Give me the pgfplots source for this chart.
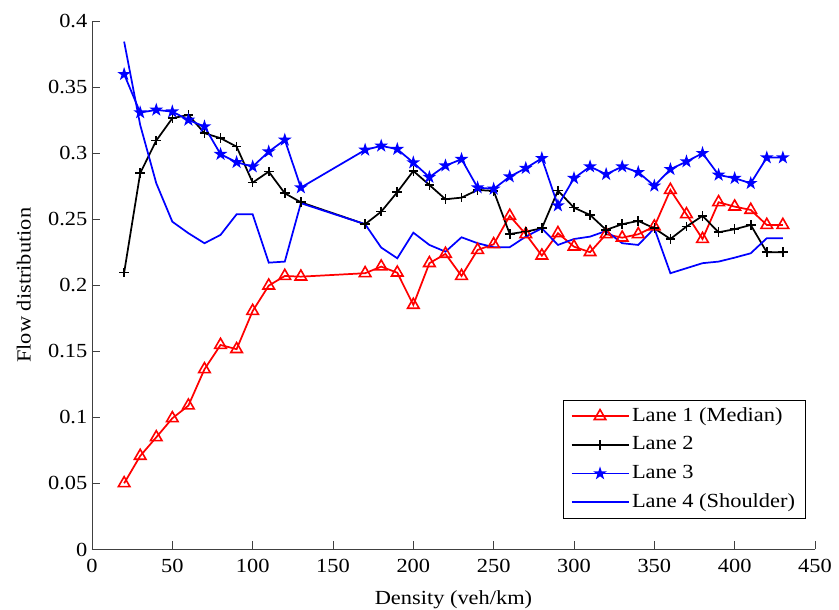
\documentclass[border=0pt]{standalone}
\usepackage{fontspec}
\setmainfont{Liberation Serif}[FakeStretch=1.12]
\usepackage{pgfplots}
\usepackage{pgfplotstable}
\pgfplotsset{compat=1.18}
\usetikzlibrary{arrows.meta}

\pgfdeclareplotmark{pstar}{%
  \pgfpathmoveto{\pgfpointpolar{90}{\pgfplotmarksize}}%
  \pgfpathlineto{\pgfpointpolar{126}{0.382\pgfplotmarksize}}%
  \pgfpathlineto{\pgfpointpolar{162}{\pgfplotmarksize}}%
  \pgfpathlineto{\pgfpointpolar{198}{0.382\pgfplotmarksize}}%
  \pgfpathlineto{\pgfpointpolar{234}{\pgfplotmarksize}}%
  \pgfpathlineto{\pgfpointpolar{270}{0.382\pgfplotmarksize}}%
  \pgfpathlineto{\pgfpointpolar{306}{\pgfplotmarksize}}%
  \pgfpathlineto{\pgfpointpolar{342}{0.382\pgfplotmarksize}}%
  \pgfpathlineto{\pgfpointpolar{18}{\pgfplotmarksize}}%
  \pgfpathlineto{\pgfpointpolar{54}{0.382\pgfplotmarksize}}%
  \pgfpathclose
  \pgfusepathqfill}

\pgfplotstableread{
x    l1     l2     l3     l4
20   0.0501 0.2095 0.3597 0.3844
30   0.0708 0.2848 0.3307 0.3213
40   0.0849 0.3095 0.3327 0.2772
50   0.0993 0.3264 0.3314 0.2481
60   0.1089 0.3289 0.3251 0.2394
70   0.1364 0.3151 0.3201 0.2318
80   0.1548 0.3113 0.2992 0.2381
90   0.1516 0.3049 0.2931 0.2537
100  0.1805 0.2777 0.2898 0.2537
110  0.1997 0.2860 0.3011 0.2171
120  0.2070 0.2696 0.3100 0.2179
130  0.2065 0.2628 0.2739 0.2621
170  0.2091 0.2462 0.3024 0.2462
180  0.2141 0.2557 0.3055 0.2285
190  0.2095 0.2704 0.3030 0.2204
200  0.1851 0.2865 0.2928 0.2398
210  0.2167 0.2759 0.2818 0.2305
220  0.2237 0.2651 0.2905 0.2254
230  0.2070 0.2663 0.2954 0.2363
240  0.2267 0.2721 0.2739 0.2318
250  0.2310 0.2714 0.2729 0.2288
260  0.2525 0.2388 0.2822 0.2288
270  0.2386 0.2406 0.2886 0.2368
280  0.2224 0.2431 0.2961 0.2431
290  0.2394 0.2716 0.2603 0.2305
300  0.2292 0.2587 0.2810 0.2350
310  0.2250 0.2532 0.2898 0.2368
320  0.2386 0.2419 0.2840 0.2411
330  0.2360 0.2462 0.2898 0.2318
340  0.2386 0.2487 0.2855 0.2305
350  0.2444 0.2431 0.2752 0.2431
360  0.2721 0.2350 0.2878 0.2091
370  0.2537 0.2444 0.2936 0.2129
380  0.2350 0.2525 0.2999 0.2167
390  0.2628 0.2401 0.2835 0.2179
400  0.2595 0.2424 0.2810 0.2209
410  0.2570 0.2456 0.2772 0.2242
420  0.2456 0.2250 0.2966 0.2356
430  0.2456 0.2250 0.2966 0.2356
}\lanedata

\begin{document}
\begin{tikzpicture}
\begin{axis}[
  scale only axis,
  width=542.25pt, height=396.375pt,
  at={(0,0)}, anchor=south west,
  xmin=0, xmax=450, ymin=0, ymax=0.4,
  axis lines=left,
  axis line style={-, black!75, line width=0.6pt},
  tick align=inside,
  major tick length=6pt,
  tick style={black!75, line width=0.6pt},
  xtick={0,50,100,150,200,250,300,350,400,450},
  xticklabels={0,50,100,150,200,250,300,350,400,450},
  ytick={0,0.05,0.1,0.15,0.2,0.25,0.3,0.35,0.4},
  yticklabels={0,0.05,0.1,0.15,0.2,0.25,0.3,0.35,0.4},
  tick label style={font=\fontsize{15}{18}\selectfont},
  xticklabel style={yshift=-4pt},
  xlabel={Density (veh/km)},
  ylabel={Flow distribution},
  label style={font=\fontsize{15}{18}\selectfont},
  xlabel style={at={(axis description cs:0.5,-0.1045)}, anchor=base},
  ylabel style={at={(axis description cs:-0.0850,0.5)}, anchor=base, rotate=0},
  legend style={at={(axis description cs:0.6515,0.2836)}, anchor=north west,
    fill=white,
    font=\fontsize{15}{18}\selectfont,
    inner xsep=5.5pt, inner ysep=3pt, row sep=3pt,
    nodes={text height=11pt, text depth=3.5pt, inner sep=2pt}},
  legend cell align=left,
  legend image code/.code={\draw[mark repeat=2,mark phase=2] plot coordinates {(0pt,0pt) (21.4pt,0pt) (42.75pt,0pt)};},
]
\addplot[red, line width=1.3pt, mark=triangle, mark size=5pt, mark options={line width=1.2pt}] table[x=x,y=l1] {\lanedata};
\addlegendentry{Lane 1 (Median)}
\addplot[black, line width=1.3pt, mark=+, mark size=3.6pt, mark options={line width=1.2pt}] table[x=x,y=l2] {\lanedata};
\addlegendentry{Lane 2}
\addplot[blue, line width=1.3pt, mark=pstar, mark size=5.4pt, mark options={fill=blue, line width=1.3pt}] table[x=x,y=l3] {\lanedata};
\addlegendentry{Lane 3}
\addplot[blue, line width=1.3pt] table[x=x,y=l4] {\lanedata};
\addlegendentry{Lane 4 (Shoulder)}
\draw[black, line width=0.9pt, -{Stealth[length=9pt,width=8pt,inset=3pt]}] (axis cs:405.2,0.0867) -- (axis cs:405.2,0.0488);
\end{axis}
\pgfresetboundingbox
\path[use as bounding box] (-69pt,-45.375pt) rectangle (560.25pt,412.125pt);
\end{tikzpicture}
\end{document}
